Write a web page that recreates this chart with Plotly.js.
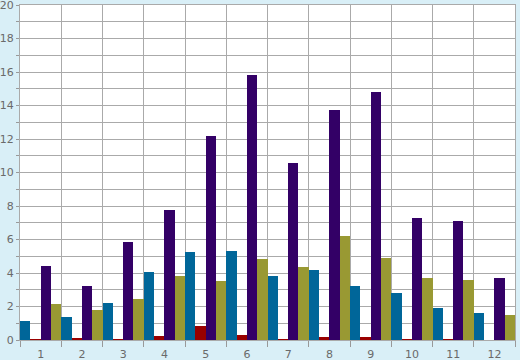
<!DOCTYPE html>
<html>
<head>
<meta charset="utf-8">
<script src="https://cdn.plot.ly/plotly-3.0.1.min.js"></script>
<style>html,body{margin:0;padding:0;background:#d9eff7;}</style>
</head>
<body>
<div id="chart" style="width:520px;height:360px;"></div>
<script>
const categories = ['1','2','3','4','5','6','7','8','9','10','11','12'];
const seriesBlue   = [1.13, 1.37, 2.21, 4.06, 5.25, 5.31, 3.82, 4.18, 3.22, 2.81, 1.91, 1.61];
const seriesRed    = [0.07, 0.12, 0.07, 0.24, 0.84, 0.30, 0.07, 0.18, 0.18, 0.07, 0.07, 0.03];
const seriesPurple = [4.42, 3.22, 5.85, 7.76, 12.18, 15.82, 10.57, 13.73, 14.81, 7.28, 7.10, 3.70];
const seriesOlive  = [2.15, 1.79, 2.45, 3.82, 3.52, 4.84, 4.36, 6.21, 4.90, 3.70, 3.58, 1.49];
const yTickVals = [0,1,2,3,4,5,6,7,8,9,10,11,12,13,14,15,16,17,18,19,20];
const yTickText = ['0','','2','','4','','6','','8','','10','','12','','14','','16','','18','','20'];

const colors = ['#006699', '#990000', '#330066', '#999933'];
const allSeries = [seriesBlue, seriesRed, seriesPurple, seriesOlive];
const data = allSeries.map((s, i) => ({
  type: 'bar', x: categories, y: s,
  marker: {color: colors[i], line: {width: 0}},
  hoverinfo: 'none'
}));

const layout = {
  width: 520, height: 360,
  margin: {l: 20, r: 5, t: 5, b: 20, pad: 0},
  paper_bgcolor: '#d9eff7',
  plot_bgcolor: '#ffffff',
  showlegend: false,
  barmode: 'group', bargap: 0, bargroupgap: 0,
  font: {family: 'DejaVu Sans', size: 11, color: '#6a6a6a'},
  xaxis: {
    type: 'category', tickson: 'boundaries',
    ticks: 'outside', ticklen: 6, tickcolor: '#999999', tickwidth: 1,
    ticklabelstandoff: 4,
    showgrid: true, gridcolor: '#aaaaaa', gridwidth: 1,
    showline: true, linecolor: '#aaaaaa', linewidth: 1, mirror: true,
    automargin: false, fixedrange: true
  },
  yaxis: {
    range: [0, 20], tickmode: 'array', tickvals: yTickVals, ticktext: yTickText,
    ticks: 'outside', ticklen: 3, tickcolor: '#999999',
    ticklabeloverflow: 'allow',
    showgrid: true, gridcolor: '#aaaaaa', gridwidth: 1,
    showline: true, linecolor: '#aaaaaa', linewidth: 1, mirror: true,
    zeroline: false, automargin: false, fixedrange: true
  }
};
Plotly.newPlot('chart', data, layout, {staticPlot: true, displayModeBar: false});
</script>
</body>
</html>
